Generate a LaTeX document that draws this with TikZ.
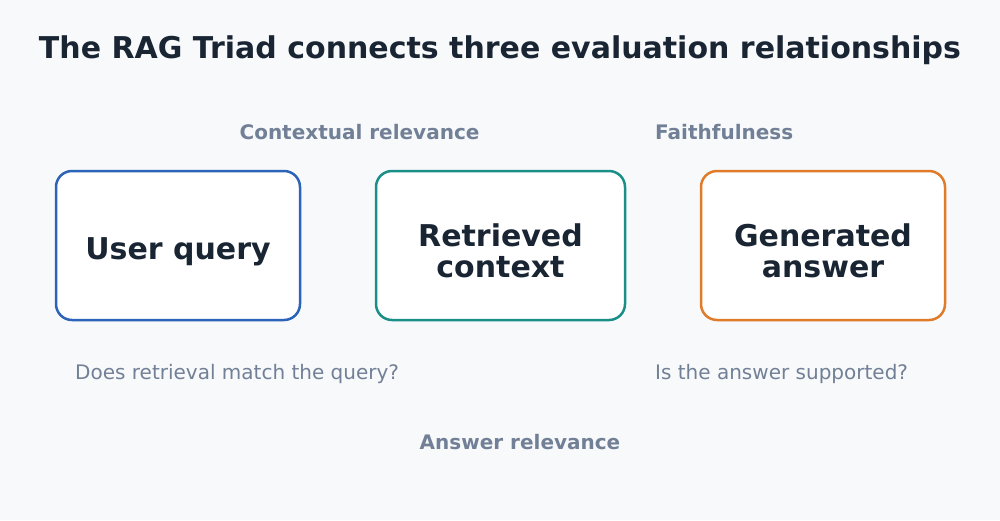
\documentclass[tikz,border=0pt]{standalone}
\usepackage{fontspec}
\setmainfont{DejaVu Sans}
\definecolor{bg}{HTML}{F8F9FB}
\definecolor{ink}{HTML}{1A2533}
\definecolor{muted}{HTML}{718096}
\definecolor{cblue}{HTML}{2B64B8}
\definecolor{cteal}{HTML}{1A8F87}
\definecolor{corange}{HTML}{E07B2A}
\tikzset{
  card/.style={draw, line width=2.5pt, fill=white, rounded corners=16pt,
    minimum width=244pt, minimum height=149pt, inner sep=0pt},
  cardtext/.style={align=center, text=ink,
    font=\fontsize{30}{31}\selectfont\bfseries, inner sep=0pt},
  rel/.style={text=muted, font=\fontsize{20}{22}\selectfont\bfseries, inner sep=0pt},
  ques/.style={text=muted, font=\fontsize{20}{22}\selectfont, inner sep=0pt},
}
\begin{document}
\begin{tikzpicture}[x=1pt,y=-1pt]
\fill[bg] (0,0) rectangle (1000,520);
\useasboundingbox (0,0) rectangle (1000,520);
\node[text=ink, font=\fontsize{30}{32}\selectfont\bfseries, inner sep=0pt] (title) at (500,50.5) {The RAG Triad connects three evaluation relationships};
\node[card, draw=cblue] (query) at (178,245.5) {};
\node[card, draw=cteal, minimum width=249pt] (context) at (500.5,245.5) {};
\node[card, draw=corange] (answer) at (823,245.5) {};
\node[cardtext] (querytext) at (178,252) {User query};
\node[cardtext] (contexttext) at (500.5,251) {Retrieved\\context};
\node[cardtext] (answertext) at (823,251) {Generated\\answer};
\node[rel] (crel) at (359.5,132) {Contextual relevance};
\node[rel, anchor=west] (faith) at (655,132) {Faithfulness};
\node[rel] (arel) at (520,442) {Answer relevance};
\node[ques, anchor=west] (q1) at (75,374) {Does retrieval match the query?};
\node[ques, anchor=west] (q2) at (655,374) {Is the answer supported?};
\end{tikzpicture}
\end{document}
